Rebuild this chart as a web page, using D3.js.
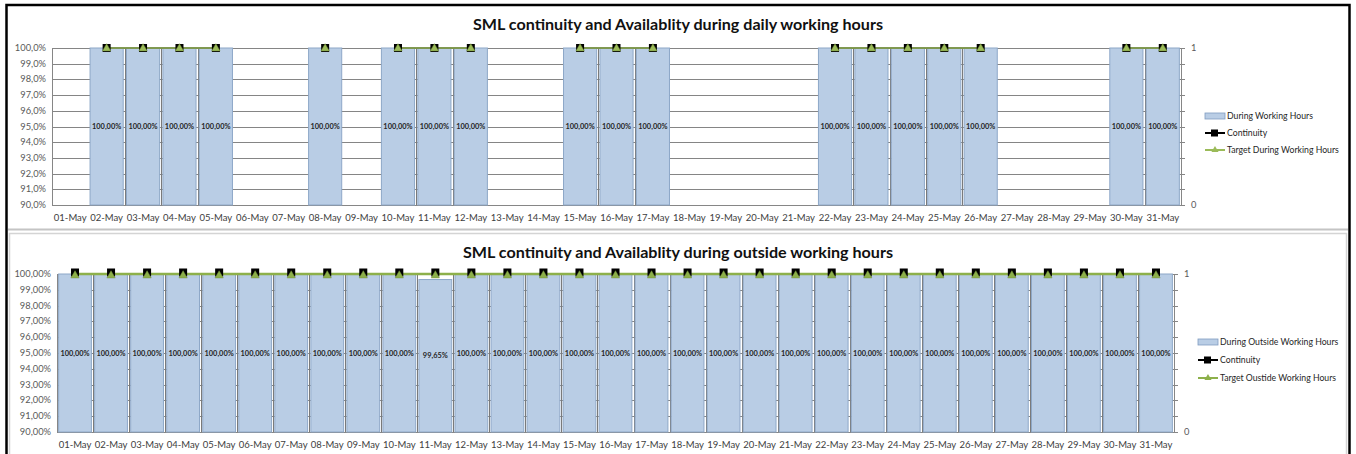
<!DOCTYPE html>
<html><head><meta charset="utf-8">
<script src="https://cdn.jsdelivr.net/npm/d3@7"></script>
<style>
body{margin:0;background:#fff}
svg{display:block}
text{font-family:Lato,'Open Sans','Noto Sans',sans-serif}
</style>
</head><body>
<svg id="c" width="1356" height="454"></svg>
<script>
// ---------- DATA ----------
const days = ["01-May","02-May","03-May","04-May","05-May","06-May","07-May","08-May","09-May","10-May",
  "11-May","12-May","13-May","14-May","15-May","16-May","17-May","18-May","19-May","20-May",
  "21-May","22-May","23-May","24-May","25-May","26-May","27-May","28-May","29-May","30-May","31-May"];

const workValues = [null,100,100,100,100,null,null,100,null,100,100,100,null,null,100,100,100,null,null,null,
  null,100,100,100,100,100,null,null,null,100,100];
const workContinuity = [null,1,1,1,1,null,null,1,null,1,1,1,null,null,1,1,1,null,null,null,
  null,1,1,1,1,1,null,null,null,1,1];
const workTarget = [null,100,100,100,100,null,null,100,null,100,100,100,null,null,100,100,100,null,null,null,
  null,100,100,100,100,100,null,null,null,100,100];

const outsideValues = [100,100,100,100,100,100,100,100,100,100,99.65,100,100,100,100,100,100,100,100,100,
  100,100,100,100,100,100,100,100,100,100,100];
const outsideContinuity = [1,1,1,1,1,1,1,1,1,1,1,1,1,1,1,1,1,1,1,1,1,1,1,1,1,1,1,1,1,1,1];
const outsideTarget = [100,100,100,100,100,100,100,100,100,100,100,100,100,100,100,100,100,100,100,100,
  100,100,100,100,100,100,100,100,100,100,100];

const leftTicks = [90,91,92,93,94,95,96,97,98,99,100];
const rightTicks = [0,0.1,0.2,0.3,0.4,0.5,0.6,0.7,0.8,0.9,1];
const rightTickLabels = [0,1];

const titles = ["SML continuity and Availablity during daily working hours",
                "SML continuity and Availablity during outside working hours"];
const legendTop = ["During Working Hours","Continuity","Target During Working Hours"];
const legendBottom = ["During Outside Working Hours","Continuity","Target Oustide Working Hours"];

// ---------- DRAW ----------
const svg = d3.select("#c");
const loc = d3.formatLocale({decimal:",", thousands:".", grouping:[3], currency:["","€"]});

// frames
svg.append("rect").attr("x",6.5).attr("y",5).attr("width",1343).attr("height",470)
  .attr("fill","none").attr("stroke","#000").attr("stroke-width",2.5);
svg.append("line").attr("x1",8).attr("x2",1348).attr("y1",229.5).attr("y2",229.5)
  .attr("stroke","#c4c4c4").attr("stroke-width",2);
svg.append("rect").attr("x",9.5).attr("y",233.5).attr("width",1337).attr("height",240)
  .attr("fill","none").attr("stroke","#d4d4d4").attr("stroke-width",1.5);

function panel(cfg){
  const g = svg.append("g");
  const x = d3.scaleBand().domain(days).range([cfg.x0,cfg.x1]).paddingInner(0.09).paddingOuter(0.045);
  const y = d3.scaleLinear().domain([90,100]).range([cfg.yB,cfg.yT]);
  const y2 = d3.scaleLinear().domain([0,1]).range([cfg.yB,cfg.yT]);
  const step = x.step(), gap = step*0.09;

  // title
  g.append("text").attr("x",cfg.tx).attr("y",cfg.ty).attr("text-anchor","middle")
    .attr("font-size",16).attr("font-weight","bold").attr("fill","#111")
    .attr("textLength",cfg.tw).attr("lengthAdjust","spacingAndGlyphs").text(cfg.title);

  // gridlines
  g.selectAll(".gl").data(leftTicks).join("line")
    .attr("x1",cfg.x0).attr("x2",cfg.x1).attr("y1",d=>Math.round(y(d))+0.5).attr("y2",d=>Math.round(y(d))+0.5)
    .attr("stroke","#858585").attr("stroke-width",1);

  // left axis labels
  g.selectAll(".yl").data(leftTicks).join("text")
    .attr("x",cfg.x0-6).attr("y",d=>y(d)+3).attr("text-anchor","end")
    .attr("font-size",9.3).attr("fill","#595959").text(d=>loc.format(cfg.fmt)(d)+"%");

  // axes lines
  g.append("line").attr("x1",cfg.x0+0.5).attr("x2",cfg.x0+0.5).attr("y1",cfg.yT).attr("y2",cfg.yB)
    .attr("stroke","#868686");
  g.append("line").attr("x1",cfg.x0).attr("x2",cfg.x1).attr("y1",cfg.yB+0.5).attr("y2",cfg.yB+0.5)
    .attr("stroke","#868686");
  g.append("line").attr("x1",cfg.x1+0.5).attr("x2",cfg.x1+0.5).attr("y1",cfg.yT).attr("y2",cfg.yB)
    .attr("stroke","#868686");
  g.selectAll(".rt").data(rightTicks).join("line")
    .attr("x1",cfg.x1).attr("x2",cfg.x1+4).attr("y1",d=>Math.round(y2(d))+0.5).attr("y2",d=>Math.round(y2(d))+0.5)
    .attr("stroke","#868686");
  g.selectAll(".rl").data(rightTickLabels).join("text")
    .attr("x",cfg.x1+10).attr("y",d=>y2(d)+3).attr("font-size",9.3).attr("fill","#595959").text(d=>d);

  // bars
  const bars = cfg.values.map((v,i)=>({v,i,d:days[i]})).filter(o=>o.v!=null);
  g.selectAll(".sep").data(bars.filter(o=>o.i>0 && cfg.values[o.i-1]!=null)).join("line")
    .attr("x1",o=>Math.round(x(o.d)-gap/2)+0.5).attr("x2",o=>Math.round(x(o.d)-gap/2)+0.5)
    .attr("y1",cfg.yT).attr("y2",cfg.yB).attr("stroke","#7a7a7a").attr("stroke-width",1);
  g.selectAll(".bar").data(bars).join("rect")
    .attr("x",o=>x(o.d)).attr("width",x.bandwidth())
    .attr("y",o=>y(o.v)).attr("height",o=>cfg.yB-y(o.v))
    .attr("fill","#b9cde5").attr("stroke","#8ea8c8").attr("stroke-width",1);
  g.selectAll(".dl").data(bars).join("text")
    .attr("x",o=>x(o.d)+x.bandwidth()/2).attr("y",o=>(y(o.v)+cfg.yB)/2+2.5)
    .attr("text-anchor","middle").attr("font-size",7.4).attr("font-weight","bold").attr("fill","#262626")
    .text(o=>loc.format(".2f")(o.v)+"%");

  // x labels
  g.selectAll(".xl").data(days).join("text")
    .attr("x",d=>x(d)+x.bandwidth()/2).attr("y",cfg.xly).attr("text-anchor","middle")
    .attr("font-size",9.5).attr("fill","#404040").text(d=>d);

  // continuity line + markers
  const cx = (d,i)=>x(days[i])+x.bandwidth()/2;
  const contLine = d3.line().defined(d=>d!=null).x(cx).y(d=>y2(d));
  g.append("path").attr("d",contLine(cfg.cont)).attr("fill","none").attr("stroke","#000").attr("stroke-width",1.5);
  const tgtLine = d3.line().defined(d=>d!=null).x(cx).y(d=>y(d));
  g.append("path").attr("d",tgtLine(cfg.target)).attr("fill","none").attr("stroke",cfg.green).attr("stroke-width",cfg.lw);
  const contPts = cfg.cont.map((v,i)=>({v,i})).filter(o=>o.v!=null);
  g.selectAll(".sq").data(contPts).join("rect")
    .attr("x",o=>cx(o.v,o.i)-4).attr("y",o=>y2(o.v)-4+cfg.sqOff).attr("width",8).attr("height",8)
    .attr("fill","#000");
  const tPts = cfg.target.map((v,i)=>({v,i})).filter(o=>o.v!=null);
  const tri = d3.symbol().type(d3.symbolTriangle).size(30);
  g.selectAll(".tr").data(tPts).join("path")
    .attr("transform",o=>`translate(${cx(o.v,o.i)},${y(o.v)+cfg.trOff})`).attr("d",tri())
    .attr("fill",cfg.green).attr("stroke","#76923c").attr("stroke-width",0.5);

  // legend
  const lx = cfg.lx, ly = cfg.ly;
  g.append("rect").attr("x",lx).attr("y",ly[0]-3).attr("width",20).attr("height",6)
    .attr("fill","#b9cde5").attr("stroke","#7f9cc0").attr("stroke-width",0.8);
  g.append("line").attr("x1",lx).attr("x2",lx+20).attr("y1",ly[1]).attr("y2",ly[1]).attr("stroke","#000").attr("stroke-width",2);
  g.append("rect").attr("x",lx+6).attr("y",ly[1]-3.5).attr("width",7).attr("height",7).attr("fill","#000");
  g.append("line").attr("x1",lx).attr("x2",lx+20).attr("y1",ly[2]).attr("y2",ly[2]).attr("stroke",cfg.green).attr("stroke-width",2);
  g.append("path").attr("transform",`translate(${lx+10},${ly[2]})`).attr("d",d3.symbol().type(d3.symbolTriangle).size(22)())
    .attr("fill",cfg.green);
  g.selectAll(".lt").data(cfg.legend).join("text")
    .attr("x",lx+22).attr("y",(d,i)=>ly[i]+3.2).attr("font-size",8.7).attr("fill","#262626").text(d=>d);
}

panel({x0:52,x1:1181,yT:48,yB:205,xly:221,tx:678,ty:30,tw:410,title:titles[0],fmt:".1f",
  values:workValues,cont:workContinuity,target:workTarget,green:"#9bbb59",lw:1.5,sqOff:0,trOff:0.5,
  lx:1205,ly:[116,133,150],legend:legendTop});
panel({x0:57,x1:1174,yT:274,yB:432,xly:448,tx:678,ty:258,tw:430,title:titles[1],fmt:".2f",
  values:outsideValues,cont:outsideContinuity,target:outsideTarget,green:"#8db04a",lw:2.5,sqOff:-1.5,trOff:1.5,
  lx:1198,ly:[342,360,378],legend:legendBottom});
</script>
</body></html>
